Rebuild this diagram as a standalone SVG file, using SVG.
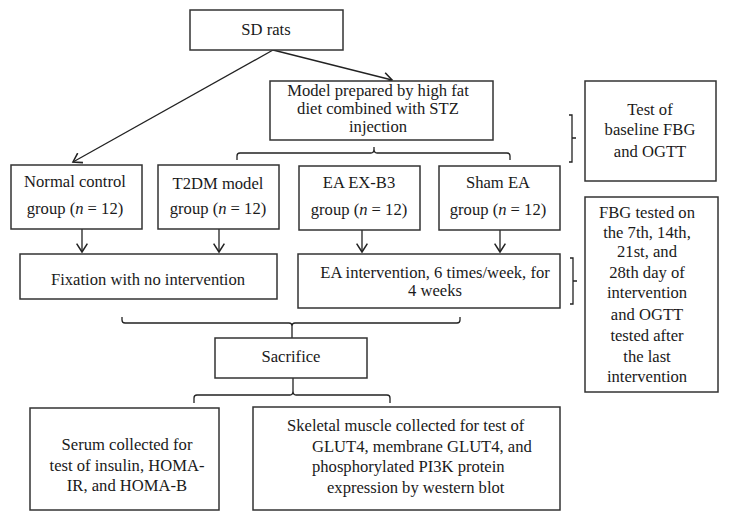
<svg xmlns="http://www.w3.org/2000/svg" width="729" height="524" viewBox="0 0 729 524">
<defs>
<marker id="arr" markerUnits="userSpaceOnUse" markerWidth="12" markerHeight="12" refX="8" refY="5" orient="auto" viewBox="0 0 10 10">
<path d="M1,0.5 L8,5 L1,9.5" fill="none" stroke="#222" stroke-width="1.3"/>
</marker>
<style>
.box{fill:#fff;stroke:#333;stroke-width:1.5}
.t{font-size:16.6px;fill:#1a1a1a}
.m{text-anchor:middle}
.c{fill:none;stroke:#222;stroke-width:1.3}
</style>
</defs>
<rect width="729" height="524" fill="#fff"/>
<g id="connectors">
<line class="c" x1="273" y1="50" x2="392" y2="80" marker-end="url(#arr)"/>
<line class="c" x1="273" y1="50" x2="73" y2="162" marker-end="url(#arr)"/>
<path class="c" d="M237,160 V156 Q237,153 240,153 H371 Q374,153 374,149 V147 M374,149 Q374,153 377,153 H507 Q510,153 510,156 V160"/>
<path class="c" d="M569,115 H572 V162 H569 M572,138 H576"/>
<path class="c" d="M570,258 H573 V304 H570 M573,281 H577"/>
<line class="c" x1="82" y1="229" x2="82" y2="252" marker-end="url(#arr)"/>
<line class="c" x1="219" y1="229" x2="219" y2="252" marker-end="url(#arr)"/>
<line class="c" x1="362" y1="230" x2="362" y2="252" marker-end="url(#arr)"/>
<line class="c" x1="500" y1="230" x2="500" y2="252" marker-end="url(#arr)"/>
<path class="c" d="M122,317 V320 Q122,323 125,323 H289 Q292,323 292,326 V338 M292,326 Q292,323 295,323 H457 Q460,323 460,320 V317"/>
<path class="c" d="M293,378 V391 Q293,395 290,395 H197 Q194,395 194,398 V403 M293,391 Q293,395 296,395 H387 Q390,395 390,398 V403"/>
</g>
<g font-family="Liberation Serif, 'Times New Roman', DejaVu Serif, serif">
<g id="sd-rats"><rect class="box" x="190" y="10" width="153" height="40"/><text class="t m" x="266" y="35">SD rats</text></g>
<g id="model"><rect class="box" x="270" y="81" width="223" height="59"/>
<text class="t m" x="378" y="96" font-size="15.8">Model prepared by high fat</text>
<text class="t m" x="378" y="114" font-size="15.8">diet combined with STZ</text>
<text class="t m" x="378" y="132" font-size="15.8">injection</text></g>
<g id="baseline-test"><rect class="box" x="585" y="81" width="131" height="100"/>
<text class="t m" x="650" y="115">Test of</text>
<text class="t m" x="650" y="135">baseline FBG</text>
<text class="t m" x="650" y="157">and OGTT</text></g>
<g id="normal"><rect class="box" x="11" y="165" width="131" height="64"/>
<text class="t m" x="75" y="187">Normal control</text>
<text class="t m" x="75" y="214">group (<tspan font-style="italic">n</tspan> = 12)</text></g>
<g id="t2dm"><rect class="box" x="158" y="165" width="121" height="64"/>
<text class="t m" x="218" y="189">T2DM model</text>
<text class="t m" x="218" y="214">group (<tspan font-style="italic">n</tspan> = 12)</text></g>
<g id="ea-exb3"><rect class="box" x="299" y="166" width="121" height="64"/>
<text class="t m" x="359" y="188">EA EX-B3</text>
<text class="t m" x="359" y="215">group (<tspan font-style="italic">n</tspan> = 12)</text></g>
<g id="sham"><rect class="box" x="439" y="166" width="121" height="64"/>
<text class="t m" x="498" y="188">Sham EA</text>
<text class="t m" x="498" y="215">group (<tspan font-style="italic">n</tspan> = 12)</text></g>
<g id="fbg-test"><rect class="box" x="585" y="197" width="133" height="195"/>
<text class="t m" x="647" y="218">FBG tested on</text>
<text class="t m" x="647" y="238">the 7th, 14th,</text>
<text class="t m" x="647" y="257">21st, and</text>
<text class="t m" x="647" y="278">28th day of</text>
<text class="t m" x="647" y="298">intervention</text>
<text class="t m" x="647" y="320">and OGTT</text>
<text class="t m" x="647" y="341">tested after</text>
<text class="t m" x="647" y="362">the last</text>
<text class="t m" x="647" y="382">intervention</text></g>
<g id="fixation"><rect class="box" x="20" y="254" width="257" height="45"/>
<text class="t m" x="148" y="285">Fixation with no intervention</text></g>
<g id="ea-intervention"><rect class="box" x="298" y="254" width="262" height="54"/>
<text class="t m" x="435" y="278">EA intervention, 6 times/week, for</text>
<text class="t m" x="435" y="296">4 weeks</text></g>
<g id="sacrifice"><rect class="box" x="215" y="338" width="152" height="40"/>
<text class="t m" x="291" y="362">Sacrifice</text></g>
<g id="serum"><rect class="box" x="30" y="408" width="189" height="102"/>
<text class="t m" x="127" y="450">Serum collected for</text>
<text class="t m" x="127" y="471">test of insulin, HOMA-</text>
<text class="t m" x="127" y="491">IR, and HOMA-B</text></g>
<g id="skeletal"><rect class="box" x="253" y="407" width="307" height="103"/>
<text class="t" x="287" y="431">Skeletal muscle collected for test of</text>
<text class="t" x="312" y="452">GLUT4, membrane GLUT4, and</text>
<text class="t" x="312" y="472">phosphorylated PI3K protein</text>
<text class="t" x="327" y="493">expression by western blot</text></g>
</g>
</svg>
